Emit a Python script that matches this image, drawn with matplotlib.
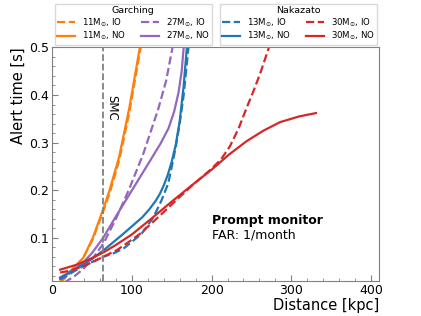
import numpy as np
import matplotlib
matplotlib.use('Agg')
import matplotlib.pyplot as plt
from matplotlib.ticker import MultipleLocator

# --- data ---
# Garching 11 Msun
d_11_no = [10, 20, 27, 39, 51, 64, 72, 84, 97, 110]
t_11_no = [0.012, 0.026, 0.037, 0.058, 0.1, 0.16, 0.2, 0.27, 0.375, 0.5]
d_11_io = [10, 20, 27, 39, 51, 64, 72, 84, 97, 111]
t_11_io = [0.006, 0.021, 0.035, 0.058, 0.097, 0.155, 0.193, 0.262, 0.365, 0.5]
# Garching 27 Msun
d_27_no = [10, 20, 30, 40, 50, 64, 80, 102, 124, 136, 146, 153, 158.5, 162.5, 165]
t_27_no = [0.017, 0.026, 0.036, 0.05, 0.068, 0.1, 0.145, 0.205, 0.265, 0.298, 0.33, 0.365, 0.405, 0.45, 0.5]
d_27_io = [15, 22, 30, 40, 50, 64, 80, 96, 114, 133, 143, 151]
t_27_io = [0.006, 0.013, 0.022, 0.036, 0.055, 0.087, 0.14, 0.2, 0.275, 0.37, 0.43, 0.5]
# Nakazato 13 Msun
d_13_no = [10, 20, 30, 40, 50, 64, 89, 113, 122, 130, 135, 140, 145, 150, 155, 160, 165, 169]
t_13_no = [0.015, 0.025, 0.035, 0.045, 0.056, 0.073, 0.108, 0.143, 0.16, 0.178, 0.192, 0.21, 0.232, 0.26,
           0.295, 0.345, 0.42, 0.5]
d_13_io = [10, 20, 30, 40, 50, 64, 78, 90, 112, 127, 137, 145.6, 150, 155, 160, 165, 171]
t_13_io = [0.012, 0.022, 0.032, 0.041, 0.049, 0.06, 0.068, 0.078, 0.108, 0.143, 0.178, 0.214, 0.249, 0.29,
           0.34, 0.4, 0.5]
# Nakazato 30 Msun
d_30_no = [10, 20, 30, 40, 52, 64, 80, 100, 125, 150, 175, 200, 222, 244, 265, 286, 310, 331]
t_30_no = [0.033, 0.038, 0.043, 0.05, 0.059, 0.069, 0.085, 0.107, 0.141, 0.176, 0.21, 0.243, 0.275, 0.303,
           0.325, 0.343, 0.355, 0.362]
d_30_io = [10, 20, 30, 40, 52, 64, 81, 95, 110, 131, 155, 177, 200, 212, 223, 234, 244, 253, 261, 267, 272]
t_30_io = [0.027, 0.03, 0.035, 0.041, 0.05, 0.06, 0.074, 0.09, 0.108, 0.14, 0.178, 0.212, 0.245, 0.265,
           0.292, 0.33, 0.373, 0.41, 0.445, 0.475, 0.5]

SMC_DIST = 64

plt.rcParams['font.family'] = 'DejaVu Sans'

fig = plt.figure(figsize=(4.21, 3.16), dpi=100)
ax = fig.add_axes([0.124, 0.112, 0.776, 0.738])

lw = 1.6
# Garching
g1, = ax.plot(d_11_io, t_11_io, '--', color='tab:orange', lw=lw, label=r'11M$_{\odot}$, IO')
g2, = ax.plot(d_11_no, t_11_no, '-', color='tab:orange', lw=lw, label=r'11M$_{\odot}$, NO')
g3, = ax.plot(d_27_io, t_27_io, '--', color='tab:purple', lw=lw, label=r'27M$_{\odot}$, IO')
g4, = ax.plot(d_27_no, t_27_no, '-', color='tab:purple', lw=lw, label=r'27M$_{\odot}$, NO')
# Nakazato
n1, = ax.plot(d_13_io, t_13_io, '--', color='tab:blue', lw=lw, label=r'13M$_{\odot}$, IO')
n2, = ax.plot(d_13_no, t_13_no, '-', color='tab:blue', lw=lw, label=r'13M$_{\odot}$, NO')
n3, = ax.plot(d_30_io, t_30_io, '--', color='tab:red', lw=lw, label=r'30M$_{\odot}$, IO')
n4, = ax.plot(d_30_no, t_30_no, '-', color='tab:red', lw=lw, label=r'30M$_{\odot}$, NO')

ax.axvline(SMC_DIST, color='gray', ls='--', lw=1.3)
ax.text(SMC_DIST + 2, 0.40, 'SMC', rotation=-90, va='top', ha='left', fontsize=8.5)

ax.text(200, 0.128, 'Prompt monitor', fontsize=9, fontweight='bold', va='baseline')
ax.text(200, 0.0985, 'FAR: 1/month', fontsize=9, va='baseline')

ax.set_xlim(0, 410)
ax.set_ylim(0.01, 0.5)
ax.set_xticks([0, 100, 200, 300, 400])
ax.set_yticks([0.1, 0.2, 0.3, 0.4, 0.5])
ax.xaxis.set_minor_locator(MultipleLocator(20))
ax.yaxis.set_minor_locator(MultipleLocator(0.02))
ax.tick_params(which='both', direction='in', labelsize=9, color='gray', pad=2.5)
ax.tick_params(which='major', length=4)
ax.tick_params(which='minor', length=2.5)
for s in ax.spines.values():
    s.set_color('gray')

ax.set_xlabel('Distance [kpc]', fontsize=10.5, loc='right', labelpad=1)
ax.set_ylabel('Alert time [s]', fontsize=10.5, loc='top', labelpad=2)

leg_kw = dict(ncol=2, fontsize=6.2, title_fontsize=6.8, borderaxespad=0,
              handlelength=2.1, columnspacing=1.7, handletextpad=0.8, labelspacing=0.15,
              borderpad=0.25, fancybox=False, edgecolor='#d0d0d0')
leg1 = ax.legend(handles=[g1, g2, g3, g4], title='Garching',
                 loc='lower left', bbox_to_anchor=(0.008, 1.012), **leg_kw)
ax.add_artist(leg1)
ax.legend(handles=[n1, n2, n3, n4], title='Nakazato',
          loc='lower right', bbox_to_anchor=(0.994, 1.012), **leg_kw)

fig.savefig('out.png', dpi=100)
